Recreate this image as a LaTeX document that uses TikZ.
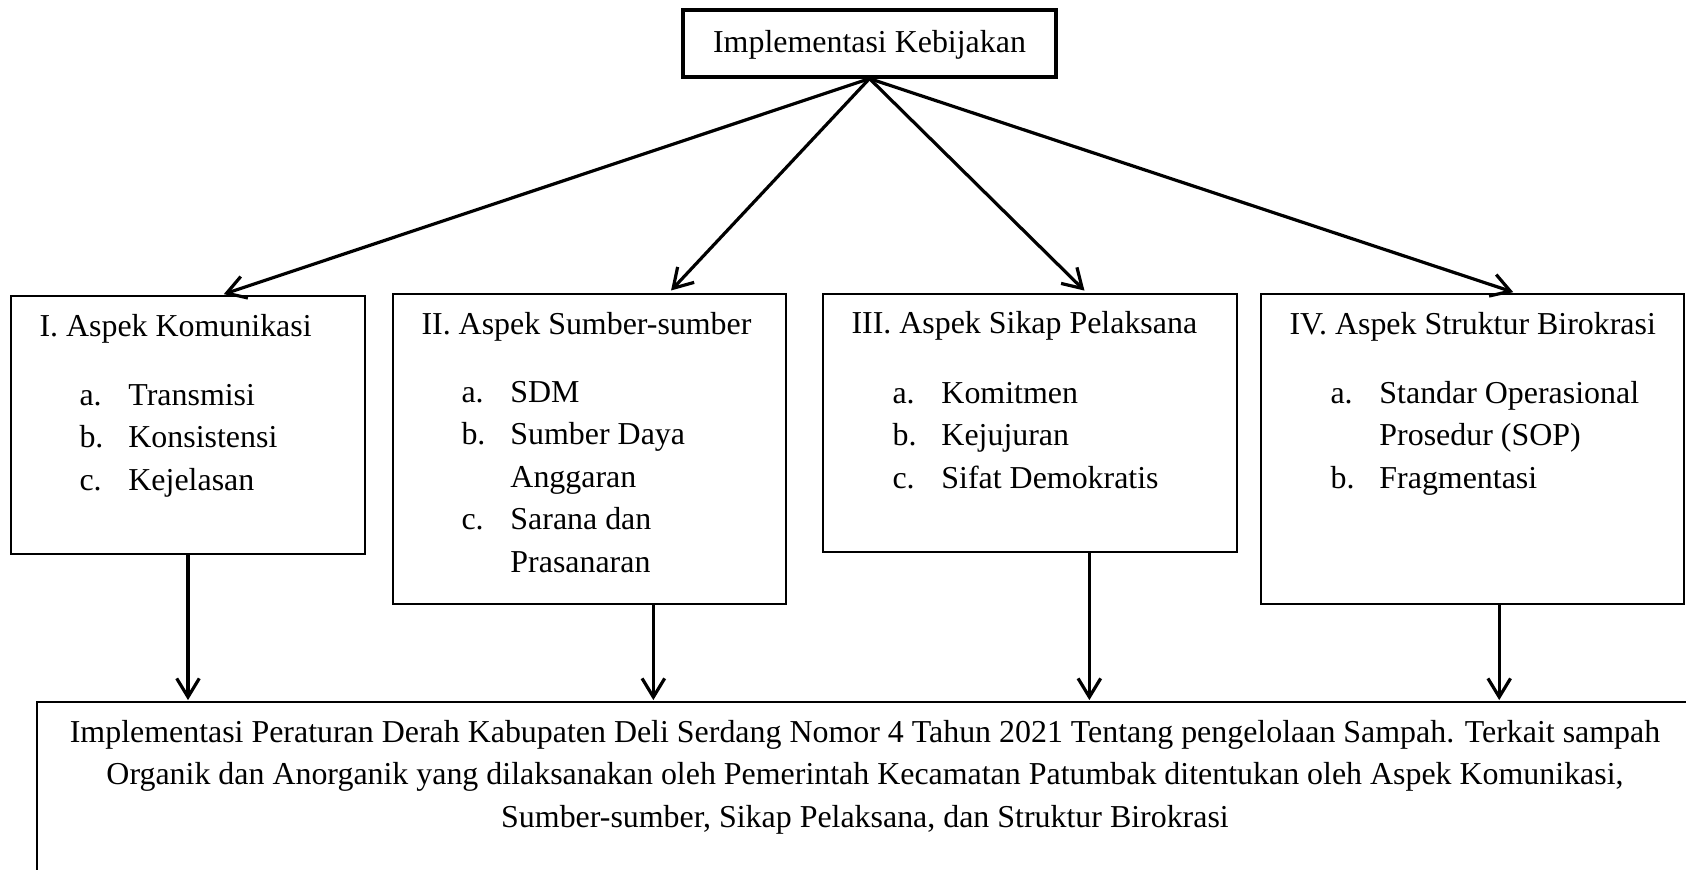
\documentclass[tikz,border=0pt]{standalone}
\usepackage{fontspec}
\setmainfont{Liberation Serif}
\usetikzlibrary{arrows.meta, calc, fit}

\tikzset{
    kotak/.style={draw, line width=0.45pt, inner sep=0pt},
    panah/.style={-{Straight Barb[length=7pt, width=8.5pt]}, line width=1.2pt},
    teks/.style={anchor=base west, inner sep=0pt, font=\fontsize{12}{16}\selectfont},
}

\begin{document}
\begin{tikzpicture}[x=0.376pt, y=-0.376pt]
    \useasboundingbox (0,0) rectangle (1686,869);

    % kotak atas dan kotak aspek
    \node[kotak, line width=1.2pt, fit={(683,10) (1056,77)}] (kebijakan) {};
    \node[kotak, fit={(11,296) (365,554)}] (aspek1) {};
    \node[kotak, fit={(393,294) (786,604)}] (aspek2) {};
    \node[kotak, fit={(823,294) (1237,552)}] (aspek3) {};
    \node[kotak, fit={(1261,294) (1684,604)}] (aspek4) {};
    \node[kotak, fit={(37,702) (1693,900)}] (hasil) {};

    \node[teks, anchor=base] (judul0) at (869.5,52) {Implementasi Kebijakan};

    % isi kotak aspek
    \node[teks] (judul1) at (39,336) {I. Aspek Komunikasi};
    \node[teks] (isi1) at (79,405) {\begin{tabular}[t]{@{}p{18.4pt}@{}l@{}}
        a. & Transmisi\\ b. & Konsistensi\\ c. & Kejelasan\end{tabular}};
    \node[teks] (judul2) at (421,334) {II. Aspek Sumber-sumber};
    \node[teks] (isi2) at (461,402) {\begin{tabular}[t]{@{}p{18.4pt}@{}l@{}}
        a. & SDM\\ b. & Sumber Daya\\ & Anggaran\\ c. & Sarana dan\\ & Prasanaran\end{tabular}};
    \node[teks] (judul3) at (851,333) {III. Aspek Sikap Pelaksana};
    \node[teks] (isi3) at (892,403) {\begin{tabular}[t]{@{}p{18.4pt}@{}l@{}}
        a. & Komitmen\\ b. & Kejujuran\\ c. & Sifat Demokratis\end{tabular}};
    \node[teks] (judul4) at (1289,334) {IV. Aspek Struktur Birokrasi};
    \node[teks] (isi4) at (1330,403) {\begin{tabular}[t]{@{}p{18.4pt}@{}l@{}}
        a. & Standar Operasional\\ & Prosedur (SOP)\\ b. & Fragmentasi\end{tabular}};

    % kesimpulan
    \node[teks, anchor=base] (isihasil) at (865,742) {\begin{tabular}[t]{@{}c@{}}
        Implementasi Peraturan Derah Kabupaten Deli Serdang Nomor 4 Tahun 2021 Tentang pengelolaan Sampah. Terkait sampah\\
        Organik dan Anorganik yang dilaksanakan oleh Pemerintah Kecamatan Patumbak ditentukan oleh Aspek Komunikasi,\\
        Sumber-sumber, Sikap Pelaksana, dan Struktur Birokrasi\end{tabular}};

    % panah
    \foreach \n/\a/\b in {1/0.59/0.5, 2/0.70/0.662, 3/0.638/0.643, 4/0.605/0.563} {
        \draw[panah, shorten >=1.5pt] (kebijakan.south) -- ($(aspek\n.north west)!\a!(aspek\n.north east)$);
        \coordinate (turun\n) at ($(aspek\n.south west)!\b!(aspek\n.south east)$);
        \draw[panah, shorten >=0.5pt] (turun\n) -- (turun\n |- hasil.north);
    }
\end{tikzpicture}
\end{document}
